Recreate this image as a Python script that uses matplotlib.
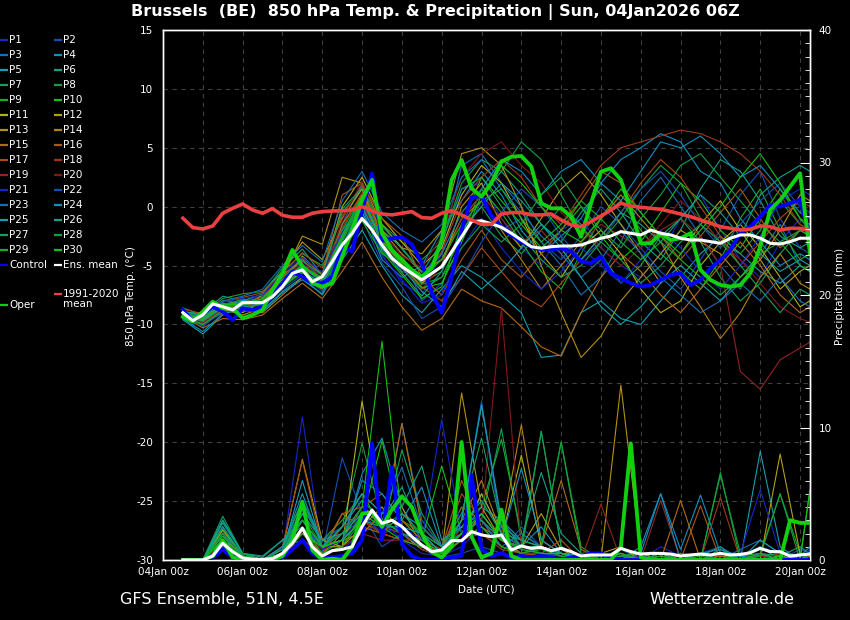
import matplotlib
matplotlib.use("Agg")
import matplotlib.pyplot as plt
from matplotlib.ticker import FixedLocator, MultipleLocator

plt.rcParams["axes.unicode_minus"] = False

# hours after 04Jan 00z
hours_6h = list(range(12, 391, 6))
hours_12h = list(range(12, 385, 12)) + [390]

tick_hours = [0, 48, 96, 144, 192, 240, 288, 336, 384]
tick_labels = ["04Jan 00z", "06Jan 00z", "08Jan 00z", "10Jan 00z", "12Jan 00z",
               "14Jan 00z", "16Jan 00z", "18Jan 00z", "20Jan 00z"]

# 6-hourly main lines (850 hPa temperature, degC)
clim_t = [-0.98, -1.78, -1.89, -1.64, -0.56, -0.14, 0.23, -0.28, -0.56, -0.17, -0.73, -0.9,
          -0.9, -0.56, -0.42, -0.37, -0.34, -0.28, 0.0, -0.34, -0.62, -0.7, -0.56, -0.42,
          -0.93, -0.98, -0.56, -0.34, -0.7, -1.13, -1.5, -1.5, -0.62, -0.5, -0.5, -0.7,
          -0.7, -0.62, -1.13, -1.55, -1.7, -1.27, -0.79, -0.28, 0.29, 0.06, -0.05, -0.14,
          -0.22, -0.42, -0.62, -0.85, -1.13, -1.41, -1.7, -1.84, -1.98, -1.92, -1.64, -1.7,
          -1.98, -1.84, -1.84, -2.04]
mean_t = [-9.0, -9.68, -9.19, -8.26, -8.49, -8.77, -8.15, -8.15, -8.15, -7.64, -6.79, -5.66,
          -5.37, -6.37, -5.94, -4.67, -3.25, -2.26, -0.99, -1.98, -3.25, -4.38, -5.09, -5.66,
          -6.22, -5.66, -5.09, -3.82, -2.55, -1.27, -1.2, -1.45, -1.75, -2.26, -2.83, -3.4,
          -3.53, -3.4, -3.34, -3.34, -3.25, -2.97, -2.68, -2.49, -2.12, -2.26, -2.4, -1.98,
          -2.26, -2.4, -2.68, -2.83, -2.83, -2.97, -3.11, -2.68, -2.4, -2.4, -2.68, -3.11,
          -3.17, -2.97, -2.68, -2.68]
ctrl_t = [-8.77, -9.76, -9.05, -8.49, -8.91, -9.62, -8.63, -8.77, -8.49, -7.5, -6.5, -5.52,
          -5.94, -6.5, -6.5, -5.94, -3.4, -3.82, -0.3, 2.8, -2.9, -2.7, -2.6, -3.2,
          -4.8, -7.3, -9.0, -6.0, -2.0, 0.8, 0.9, -0.8, -1.7, -2.4, -2.97, -3.4,
          -3.62, -3.62, -3.53, -3.82, -4.67, -4.8, -4.24, -5.66, -6.08, -6.5, -6.79, -6.65,
          -6.22, -5.8, -5.66, -6.65, -6.22, -5.23, -4.52, -3.68, -2.26, -1.7, -0.85, 0.14,
          0.0, 0.29, 0.57, -2.55]
oper_t = [-9.34, -9.76, -8.91, -8.06, -8.63, -8.63, -9.47, -9.19, -8.77, -7.07, -5.66, -3.68,
          -5.09, -6.5, -6.79, -6.5, -4.24, -1.98, 0.57, 2.27, -2.26, -3.68, -4.52, -5.37,
          -5.94, -5.23, -2.83, 2.27, 3.96, 1.56, 0.85, 2.0, 3.82, 4.24, 4.3, 3.4,
          0.29, -0.14, -0.14, -0.85, -2.55, 0.29, 2.97, 3.26, 2.27, -0.28, -3.11, -3.11,
          -2.26, -2.83, -2.68, -2.26, -5.37, -6.22, -6.65, -6.79, -6.65, -5.66, -3.4, -0.28,
          0.57, 1.7, 2.83, -3.96]

# 6-hourly main lines (precipitation, mm)
mean_pr = [0, 0, 0, 0.3, 1.26, 0.63, 0.15, 0.05, 0.05, 0.1, 0.5, 1.26, 2.39, 1.0, 0.3, 0.7,
           0.8, 1.0, 2.52, 3.77, 2.77, 3.0, 2.52, 1.76, 1.13, 0.63, 0.75, 1.46, 1.46, 2.14,
           1.89, 1.76, 1.89, 0.75, 1.06, 0.88, 0.95, 0.7, 0.88, 0.63, 0.3, 0.38, 0.38, 0.38,
           0.88, 0.63, 0.45, 0.5, 0.5, 0.45, 0.3, 0.38, 0.45, 0.38, 0.5, 0.38, 0.42, 0.55,
           0.88, 0.63, 0.63, 0.3, 0.38, 0.45]
ctrl_pr = [0, 0, 0, 0.2, 0.8, 0.2, 0, 0, 0, 0, 0.2, 0.8, 1.5, 0.5, 0.1, 0.2,
           0.3, 0.5, 1.5, 8.8, 1.5, 7.0, 1.2, 0.3, 0, 0, 0, 0.2, 0.3, 6.4,
           0.8, 0.3, 0.5, 0.2, 0.3, 0.2, 0.3, 0.2, 0, 0.2, 0.3, 0.5, 0.5, 0.2,
           0, 0, 0, 0, 0, 0, 0, 0, 0, 0, 0, 0, 0, 0,
           0, 0, 0, 0, 0, 0]
oper_pr = [0, 0, 0, 0.3, 1.5, 0.2, 0, 0, 0, 0, 0.3, 1.5, 4.4, 0.75, 0, 0.1,
           0, 1.0, 3.5, 3.6, 2.5, 3.8, 4.8, 4.0, 2.0, 0.6, 0.2, 1.0, 8.9, 1.76,
           0.2, 0.5, 3.8, 0.3, 0, 0, 0, 0, 0, 0, 0, 0, 0, 0,
           1.0, 8.8, 0.2, 0, 0, 0, 0, 0, 0, 0, 0, 0, 0, 0,
           0, 0, 0, 3.0, 2.8, 2.8]

# 12-hourly perturbation members, temperature (degC)
p01_t = [-9.2, -9.6, -8.4, -8.0, -7.6, -6.0, -4.8, -6.8, -2.5, 0.5, -4.0, -6.5, -7.5, -4.0, 1.5, 2.0, -1.0, -3.5, -5.0, -2.0, -1.0, -3.5, -5.0, -6.0, -4.0, -1.0, 1.0, -2.0, -4.5, -6.0, -3.0, -1.0, -2.0]
p02_t = [-8.8, -10.2, -8.8, -8.6, -8.0, -6.4, -5.0, -5.5, -3.8, 1.0, -2.5, -4.0, -8.0, -6.5, -3.0, 0.5, -2.0, -1.0, -3.0, -4.5, -2.5, 0.0, -1.5, -3.5, -5.5, -7.0, -4.5, -2.0, 1.0, 3.0, -1.0, -3.5, -4.0]
p03_t = [-9.4, -10.0, -8.6, -7.9, -8.6, -6.9, -5.2, -6.0, -1.5, 2.0, -3.0, -5.5, -6.0, -3.5, 3.5, 4.5, 2.0, 0.0, -3.0, -5.0, -7.5, -6.0, -3.0, 0.5, 2.5, 0.0, -2.5, -5.0, -7.0, -4.0, -1.5, -5.0, -5.5]
p04_t = [-9.0, -9.4, -8.0, -8.3, -7.8, -5.8, -4.5, -6.2, -2.0, 0.0, -4.5, -6.0, -5.0, -2.0, 0.5, 3.0, 1.0, -2.0, -4.0, -2.5, -1.0, 2.0, 4.0, 5.0, 6.2, 5.5, 3.0, 2.0, -1.0, -3.0, -5.0, -4.0, -4.5]
p05_t = [-9.6, -10.8, -9.2, -8.4, -8.8, -7.2, -6.0, -7.5, -4.5, -2.0, -5.0, -7.5, -9.0, -7.0, -5.0, -6.0, -7.5, -9.0, -12.8, -12.6, -9.0, -8.0, -9.5, -10.0, -8.0, -6.0, -4.0, -2.5, -4.0, -5.5, -6.5, -5.0, -5.5]
p06_t = [-9.0, -9.0, -7.6, -8.0, -7.4, -5.2, -3.6, -5.8, -0.5, 1.5, -2.0, -3.5, -5.5, -4.5, -1.0, 1.0, 3.0, 1.0, -1.5, -3.0, -0.5, 1.5, -0.5, -3.0, -4.5, -2.0, 1.5, 4.0, 3.0, 0.5, -2.5, -3.5, -3.0]
p07_t = [-9.3, -9.8, -8.2, -8.8, -8.2, -6.6, -5.6, -6.6, -3.5, -0.5, -3.5, -4.5, -6.5, -5.5, -2.0, 0.0, -2.5, -4.0, -2.0, 0.0, -1.5, -4.0, -6.5, -5.0, -2.5, -1.0, -3.0, -6.0, -8.0, -6.5, -4.0, -2.0, -2.5]
p08_t = [-8.6, -9.2, -7.8, -7.4, -7.2, -5.5, -4.0, -5.0, -2.0, 1.0, -1.5, -3.0, -4.5, -3.0, 2.0, 4.0, 3.0, 5.5, 4.0, 1.0, -2.0, -3.0, -1.0, 1.5, 3.5, 2.0, -1.0, -3.0, -4.0, -2.0, 0.5, -1.5, -2.0]
p09_t = [-9.1, -9.5, -8.5, -7.8, -8.4, -6.8, -5.5, -6.5, -3.0, 0.5, -3.0, -5.0, -7.0, -6.0, -2.5, 1.5, -0.5, -3.0, -5.5, -7.0, -4.0, -1.0, 0.5, -2.0, -4.0, -5.5, -7.0, -4.5, -1.0, 1.5, -2.0, -4.5, -4.0]
p10_t = [-9.4, -9.9, -8.0, -8.2, -7.9, -6.2, -5.0, -6.3, -2.8, 0.8, -3.8, -5.8, -7.8, -6.8, -1.5, 2.5, 0.5, -1.5, -3.5, -2.0, 0.0, -2.5, -4.5, -3.0, -0.5, 2.0, 0.5, -2.0, -3.5, -1.0, 1.5, -1.0, -1.5]
p11_t = [-8.9, -9.3, -8.4, -9.0, -8.0, -6.5, -4.2, -5.8, 0.0, 2.5, -1.0, -3.0, -5.0, -3.5, 1.0, 3.5, 2.0, -1.0, -4.0, -6.0, -3.5, -2.0, -4.0, -7.0, -9.0, -8.0, -5.0, -3.0, -1.5, -3.5, -6.0, -8.5, -8.0]
p12_t = [-9.2, -9.7, -8.9, -8.5, -7.5, -5.5, -3.0, -4.5, -1.0, 1.5, -2.5, -4.5, -6.5, -5.0, 0.0, 2.0, -1.5, -3.5, -1.0, 1.5, 3.0, 1.0, -1.5, -4.0, -6.5, -4.0, -1.5, 0.5, -2.0, -4.5, -7.0, -5.5, -5.0]
p13_t = [-9.0, -9.4, -8.7, -9.2, -8.6, -6.0, -2.5, -3.2, 2.5, 2.0, -1.5, -3.5, -4.0, -2.0, 4.5, 5.0, 3.5, 0.0, -5.0, -9.0, -12.8, -11.0, -8.0, -6.0, -4.0, -2.0, -3.0, -4.0, -6.0, -4.5, -2.0, 1.0, 0.5]
p14_t = [-9.5, -10.0, -9.0, -8.8, -9.0, -7.5, -6.0, -7.0, -1.5, 1.0, -2.0, -4.0, -5.5, -4.5, -1.0, 0.5, -2.0, -4.5, -7.0, -5.0, -3.0, -1.0, 1.0, -1.0, -3.0, -6.0, -8.5, -11.2, -9.0, -6.0, -4.0, -6.5, -7.0]
p15_t = [-9.3, -10.3, -9.5, -9.6, -9.2, -7.8, -6.5, -7.8, -5.5, -3.0, -6.0, -8.5, -10.5, -9.5, -7.0, -8.0, -8.6, -10.2, -11.9, -12.7, -9.0, -6.0, -4.0, -5.5, -7.5, -9.0, -7.0, -5.0, -3.0, -5.0, -7.5, -9.0, -8.5]
p16_t = [-9.0, -9.6, -8.3, -8.1, -7.7, -5.9, -4.4, -5.7, 1.0, 2.0, -1.0, -2.5, -6.0, -7.5, -4.5, -2.0, -4.5, -6.0, -4.0, -2.0, 0.5, 3.0, 2.0, -0.5, -2.5, -4.5, -2.5, -0.5, 1.5, -1.0, -3.5, -2.0, -2.5]
p17_t = [-8.7, -9.1, -8.1, -7.7, -7.3, -5.7, -3.9, -5.2, -0.8, 1.8, -2.8, -4.8, -6.8, -8.0, -6.0, -3.5, -5.5, -7.5, -8.5, -6.5, -4.5, -2.5, -0.5, 2.0, 4.0, 2.5, 0.0, -2.5, -5.0, -3.0, -1.0, 0.5, 0.0]
p18_t = [-9.4, -9.8, -8.6, -8.4, -8.1, -6.3, -4.9, -6.1, -1.8, 1.2, -3.3, -5.3, -6.3, -3.8, 0.5, 2.5, 4.0, 2.5, 0.0, -1.5, 1.0, 3.5, 5.0, 5.5, 6.0, 6.5, 6.2, 5.5, 4.5, 3.0, 1.0, -1.5, -2.0]
p19_t = [-9.1, -9.5, -8.3, -8.6, -8.3, -6.7, -5.3, -6.3, -2.3, 0.3, -3.0, -5.0, -7.0, -5.0, -1.0, 1.0, -1.0, -3.0, -2.0, -4.0, -3.0, -1.5, -2.5, -3.5, -2.0, -1.0, -2.5, -5.0, -14.0, -15.5, -13.0, -12.0, -11.5]
p20_t = [-9.2, -9.9, -8.7, -8.2, -7.9, -6.1, -4.7, -5.9, -1.2, 2.2, -2.2, -4.2, -5.2, -2.5, 2.5, 4.5, 5.5, 3.5, 2.0, -0.5, -2.0, -3.5, -5.0, -3.5, -1.5, 0.5, -1.0, -3.0, -4.5, -6.5, -8.5, -9.5, -9.8]
p21_t = [-9.0, -9.3, -8.1, -7.8, -7.5, -5.6, -4.3, -5.6, -2.2, 0.2, -4.2, -6.2, -8.2, -7.5, -3.5, -1.0, -3.5, -5.5, -7.0, -5.5, -3.5, -5.0, -6.5, -4.5, -2.0, -3.5, -5.5, -7.0, -5.0, -2.5, 0.5, 1.5, 1.0]
p22_t = [-9.3, -10.1, -8.9, -8.9, -8.5, -7.0, -5.8, -7.2, -4.0, -1.0, -4.8, -6.8, -9.5, -8.5, -6.0, -3.0, -0.5, 1.5, 0.0, -2.5, -4.5, -3.0, -0.5, 1.5, 3.0, 1.0, -1.5, -3.5, -1.5, 0.5, 2.0, 0.0, -0.5]
p23_t = [-8.8, -9.4, -8.0, -7.6, -7.0, -5.0, -3.3, -4.7, 0.5, 3.0, -0.5, -2.0, -3.0, -1.5, 2.5, 4.0, 1.5, -0.5, -2.5, -4.0, -6.0, -4.5, -2.0, -4.0, -6.0, -7.5, -9.0, -8.0, -6.5, -8.0, -6.0, -8.0, -8.5]
p24_t = [-9.5, -10.6, -9.1, -8.7, -8.9, -7.3, -6.2, -7.4, -3.5, -0.5, -3.5, -5.0, -6.0, -4.0, -0.5, 1.5, 4.0, 3.0, 1.0, 3.0, 4.0, 2.0, 0.5, 3.0, 5.5, 5.0, 6.0, 4.5, 2.5, 3.5, 1.5, -0.5, -1.0]
p25_t = [-9.2, -9.6, -8.5, -8.0, -8.1, -6.4, -5.1, -6.4, -2.7, 0.7, -3.2, -5.2, -7.2, -8.5, -5.5, -7.0, -5.5, -3.5, -1.5, -3.5, -6.0, -8.5, -10.0, -8.5, -6.5, -5.0, -6.5, -8.0, -6.0, -4.0, -5.5, -4.5, -5.0]
p26_t = [-8.9, -9.2, -8.2, -8.5, -8.3, -6.6, -5.4, -6.6, -3.3, 0.1, -3.6, -5.6, -7.6, -5.5, -2.0, 0.0, 2.0, 0.5, -1.5, -3.0, -4.5, -2.5, -0.5, -1.5, -3.0, -1.0, 1.0, -0.5, -2.5, 1.0, 2.5, 3.5, 3.0]
p27_t = [-9.3, -9.7, -8.6, -8.1, -7.9, -6.0, -4.6, -5.8, -0.2, 1.6, -1.6, -3.6, -5.6, -3.0, 1.5, 2.5, 0.0, -2.5, -4.5, -6.0, -5.0, -3.0, -4.5, -6.5, -5.0, -3.0, -1.5, -3.0, -5.0, -7.0, -9.0, -7.0, -7.5]
p28_t = [-9.0, -9.4, -8.5, -8.7, -8.2, -6.4, -5.2, -6.0, -2.6, 0.6, -2.6, -4.6, -6.6, -6.0, -3.5, -1.5, -3.0, -1.5, 1.0, 2.5, 0.0, -2.0, -3.5, -1.0, 1.0, 3.5, 4.5, 2.5, 0.5, -1.5, -3.0, -2.0, -2.5]
p29_t = [-9.4, -10.0, -8.8, -8.4, -8.0, -6.8, -5.6, -6.8, -3.8, -1.2, -4.0, -5.0, -6.0, -4.5, -1.5, 0.5, 1.5, -1.0, -3.0, -1.5, 0.5, -1.0, -3.0, -4.5, -3.0, -4.5, -6.0, -7.5, -6.0, -4.0, -3.0, -5.0, -5.5]
p30_t = [-9.1, -9.5, -8.3, -8.3, -7.8, -6.2, -5.0, -6.2, -2.4, 0.9, -2.9, -4.9, -6.9, -6.5, -3.0, 1.0, 3.5, 2.0, 0.0, -2.0, -3.0, -1.0, 1.5, -0.5, -2.5, -4.0, -2.0, 0.0, 2.5, 4.5, 2.0, -1.0, -2.0]

# 12-hourly perturbation members, precipitation (mm)
p01_pr = [0, 0, 1.2, 0, 0, 0.5, 10.8, 0.5, 0.8, 2.0, 3.0, 1.5, 0.5, 0.3, 1.0, 2.5, 1.5, 0.5, 0.3, 0, 0, 0.5, 0, 0, 1.0, 0.3, 0, 0, 0, 0.5, 0, 0, 0]
p02_pr = [0, 0, 0.8, 0, 0, 0.3, 2.0, 0.5, 7.7, 3.5, 1.0, 2.0, 0.8, 0.2, 0.5, 1.0, 0.5, 2.5, 1.0, 0.3, 0, 0, 0.8, 0, 0, 0, 0.5, 1.0, 0, 0.3, 0, 0.8, 0.5]
p03_pr = [0, 0, 1.5, 0.2, 0, 0.8, 3.0, 1.0, 2.0, 4.0, 2.5, 10.3, 3.0, 1.0, 2.0, 3.5, 1.5, 1.0, 0.5, 0.5, 0, 0.3, 0, 0.5, 0, 0.5, 0, 0, 0.8, 1.5, 0.5, 0, 0]
p04_pr = [0, 0, 2.0, 0, 0, 1.0, 4.5, 1.5, 1.0, 6.5, 9.2, 4.0, 1.5, 0.5, 1.5, 5.0, 2.0, 1.0, 2.5, 0.5, 0.3, 0, 0, 1.0, 5.0, 0.8, 4.9, 0.5, 0.3, 1.0, 0, 0.5, 0.3]
p05_pr = [0, 0, 2.5, 0.3, 0, 0.5, 6.0, 1.0, 1.5, 3.0, 2.0, 3.5, 2.5, 1.0, 2.0, 4.0, 3.0, 1.5, 1.0, 0.5, 0, 0, 0.5, 0, 0, 0, 0, 0, 0, 8.2, 1.0, 0, 0.5]
p06_pr = [0, 0, 3.0, 0.5, 0.2, 1.5, 2.5, 0.8, 2.5, 4.5, 3.0, 5.5, 2.0, 0.5, 3.0, 11.7, 2.5, 1.5, 6.6, 2.0, 0.5, 0.5, 0, 0.3, 0, 0.5, 0.3, 1.0, 0, 0.5, 0.3, 1.0, 0.5]
p07_pr = [0, 0, 3.3, 0.5, 0, 1.0, 1.5, 0.5, 1.0, 3.0, 2.0, 8.3, 3.5, 1.0, 2.0, 3.0, 9.9, 1.5, 1.0, 0.5, 0, 0, 0.5, 0, 0.3, 0, 0, 0.8, 0, 0.3, 0, 0, 0.5]
p08_pr = [0, 0, 2.2, 0.3, 0, 0.8, 3.5, 1.0, 2.5, 8.8, 3.0, 2.0, 1.5, 0.5, 1.5, 2.5, 1.0, 0.5, 9.7, 1.0, 0.3, 0, 0, 0.5, 0, 0.5, 0, 6.4, 0.5, 0.3, 0.5, 0, 0.3]
p09_pr = [0, 0, 1.8, 0.2, 0, 0.5, 4.0, 1.5, 3.0, 5.0, 2.5, 3.0, 2.0, 1.0, 3.0, 4.0, 9.1, 2.0, 1.0, 8.9, 1.0, 0, 0.3, 0.5, 0, 0, 0.3, 0, 0, 0.5, 5.0, 0.5, 0.3]
p10_pr = [0, 0, 1.0, 0, 0, 0.3, 2.0, 0.5, 1.5, 4.0, 16.5, 3.0, 1.5, 7.1, 2.0, 3.0, 1.5, 1.0, 0.5, 0.3, 0, 0, 0.5, 0, 0, 0, 0, 0, 0.3, 0.5, 0, 0, 5.3]
p11_pr = [0, 0, 1.5, 0.5, 0, 0.5, 3.0, 1.0, 1.0, 12.0, 3.0, 2.0, 1.0, 0.3, 1.5, 3.5, 1.5, 7.9, 1.0, 0.5, 0.3, 0, 0, 0, 0, 0.5, 0, 0, 0, 0, 0.3, 0, 0]
p12_pr = [0, 0, 2.3, 0.3, 0, 0.8, 7.6, 1.5, 1.0, 2.5, 4.0, 2.0, 0.8, 0.3, 2.0, 5.0, 2.0, 1.0, 3.5, 0.8, 0, 0.5, 1.0, 0, 0.5, 0, 0, 0.3, 0, 0, 8.0, 0.5, 0]
p13_pr = [0, 0, 1.0, 0, 0, 0.5, 1.5, 0.5, 2.0, 3.0, 2.0, 1.5, 1.0, 0.5, 12.6, 4.0, 1.5, 0.5, 0.3, 0, 0, 0, 13.2, 0.5, 0, 0.3, 0, 0, 0, 0.3, 0, 0, 0]
p14_pr = [0, 0, 1.2, 0.2, 0, 0.3, 2.5, 1.0, 1.5, 2.0, 3.5, 4.0, 1.0, 0.5, 3.0, 6.0, 2.0, 10.2, 1.5, 0.5, 0, 0, 0.5, 0, 0, 0, 0.5, 0, 0, 0, 0, 0.5, 0]
p15_pr = [0, 0, 0.8, 0, 0, 0.5, 3.0, 0.8, 3.5, 2.5, 2.0, 10.3, 2.5, 1.0, 4.0, 3.0, 1.0, 0.5, 1.0, 6.0, 0.8, 0, 0, 0.3, 0, 4.5, 0, 0.3, 0, 0, 0, 0, 0]
p16_pr = [0, 0, 1.5, 0.3, 0, 0.5, 2.0, 0.5, 3.5, 4.0, 5.0, 3.0, 1.5, 0.8, 6.0, 2.5, 1.5, 1.0, 0.5, 1.5, 0, 0, 0.5, 0, 0.3, 0, 4.1, 0, 0.5, 0, 0, 0, 0.3]
p17_pr = [0, 0, 2.0, 0.2, 0, 1.0, 7.5, 1.0, 1.5, 3.0, 2.5, 2.0, 1.0, 0.5, 5.0, 3.0, 1.0, 0.5, 0.5, 0.3, 0, 0.5, 0, 0, 0, 0, 0, 0, 0, 0.5, 0, 0, 0]
p18_pr = [0, 0, 1.0, 0, 0, 0.5, 1.5, 0.5, 2.5, 3.5, 2.0, 1.5, 1.5, 0.3, 2.5, 2.0, 0.8, 0.5, 0.3, 0, 0, 0, 0, 0.3, 0, 0, 0, 4.7, 0, 0.5, 0, 0, 0]
p19_pr = [0, 0, 0.8, 0, 0, 0.3, 2.5, 0.5, 1.0, 2.0, 1.5, 1.5, 1.0, 0.5, 1.5, 2.0, 1.0, 0.5, 0.5, 0.3, 0, 4.2, 0, 0, 4.5, 0, 0, 0.5, 0, 0, 0.5, 0, 0]
p20_pr = [0, 0, 1.2, 0.2, 0, 0.5, 2.0, 0.8, 1.5, 3.0, 2.0, 2.5, 0.8, 0.3, 2.0, 3.0, 19.0, 1.0, 0.5, 0.3, 0, 0, 0.5, 0, 0, 0, 0, 0, 0, 0.3, 0, 0, 0]
p21_pr = [0, 0, 1.0, 0, 0, 0.5, 3.0, 0.8, 1.5, 3.5, 2.0, 2.5, 1.5, 10.6, 2.0, 3.0, 1.5, 0.8, 0.5, 0.3, 0, 0, 0, 0.3, 0, 0, 0, 0, 0.5, 5.3, 0.5, 0, 0.8]
p22_pr = [0, 0, 1.5, 0.3, 0, 0.5, 2.5, 1.0, 2.0, 4.0, 3.0, 2.0, 1.0, 0.5, 3.0, 12.0, 2.0, 1.0, 0.5, 0.3, 0, 0.3, 0, 0, 0, 0.5, 0, 0, 0, 1.0, 0.5, 0, 0.5]
p23_pr = [0, 0, 2.0, 0.2, 0, 0.8, 4.0, 1.5, 2.5, 5.0, 3.5, 7.0, 2.5, 1.0, 2.0, 3.0, 1.0, 2.0, 1.0, 0.5, 0, 0, 0.5, 0, 0, 0, 0.5, 0, 0.3, 0, 0, 0.5, 0]
p24_pr = [0, 0, 2.5, 0.3, 0, 1.0, 5.0, 1.0, 1.5, 6.0, 5.0, 3.0, 5.5, 1.0, 2.5, 3.5, 1.5, 6.9, 1.5, 0.5, 0.3, 0, 0, 0.5, 5.0, 0, 0.5, 0.8, 0.3, 0, 0, 0.3, 1.0]
p25_pr = [0, 0, 2.8, 0.5, 0, 0.5, 3.5, 1.5, 2.0, 3.5, 2.5, 2.5, 2.0, 0.5, 3.0, 11.7, 3.0, 1.0, 1.0, 0.5, 0, 0, 0, 0, 0, 0, 0, 0, 0, 1.5, 0.5, 0, 0]
p26_pr = [0, 0, 3.0, 0.5, 0.3, 1.5, 3.0, 1.0, 2.5, 5.0, 3.5, 4.0, 7.1, 1.5, 2.5, 4.5, 2.0, 1.5, 1.0, 0.5, 0, 0, 0.3, 0, 0.5, 0, 0, 0, 0, 0.5, 0, 0, 0]
p27_pr = [0, 0, 2.5, 0.3, 0, 0.8, 4.5, 1.0, 1.5, 3.0, 2.5, 3.5, 2.0, 1.0, 3.5, 9.2, 2.5, 1.0, 9.7, 1.0, 0.3, 0, 0, 0, 0.5, 0, 0, 0.5, 0, 0, 0, 0.5, 0]
p28_pr = [0, 0, 2.0, 0.5, 0, 0.5, 3.0, 1.0, 2.0, 4.0, 3.0, 2.0, 1.5, 0.5, 2.0, 3.0, 1.5, 1.0, 1.0, 8.9, 0.5, 0, 0.3, 0, 0, 0.5, 0, 6.6, 0, 0.3, 5.0, 0, 0]
p29_pr = [0, 0, 1.8, 0.3, 0, 0.5, 2.5, 0.5, 1.0, 3.5, 2.5, 1.5, 1.0, 0.5, 1.5, 2.5, 1.0, 0.5, 0.8, 0.3, 0, 0.5, 0, 0, 0.3, 0, 0, 0, 0.5, 0, 0.3, 0, 0.5]
p30_pr = [0, 0, 1.5, 0.2, 0, 0.5, 2.0, 1.0, 1.5, 3.0, 9.0, 2.5, 1.0, 0.5, 2.0, 3.5, 1.5, 0.8, 0.5, 0.5, 0, 0, 0.5, 0, 0, 0, 0, 0, 0, 0, 0, 0, 5.3]

member_temp = [p01_t, p02_t, p03_t, p04_t, p05_t, p06_t, p07_t, p08_t, p09_t, p10_t,
               p11_t, p12_t, p13_t, p14_t, p15_t, p16_t, p17_t, p18_t, p19_t, p20_t,
               p21_t, p22_t, p23_t, p24_t, p25_t, p26_t, p27_t, p28_t, p29_t, p30_t]
member_precip = [p01_pr, p02_pr, p03_pr, p04_pr, p05_pr, p06_pr, p07_pr, p08_pr, p09_pr, p10_pr,
                 p11_pr, p12_pr, p13_pr, p14_pr, p15_pr, p16_pr, p17_pr, p18_pr, p19_pr, p20_pr,
                 p21_pr, p22_pr, p23_pr, p24_pr, p25_pr, p26_pr, p27_pr, p28_pr, p29_pr, p30_pr]

base_colors = ["#1428c8", "#1450b4", "#1470b4", "#1490c0", "#14a0b0",
               "#14a086", "#14a05a", "#14a040", "#14b024", "#14c014",
               "#b4b014", "#b4a014", "#b49014", "#b48014", "#b46a14",
               "#a85a14", "#a84a14", "#a03a18", "#902424", "#801818"]
member_colors = base_colors + base_colors[:10]

CTRL_COLOR = "#0000ff"
OPER_COLOR = "#10d010"
CLIM_COLOR = "#ec4040"
MEAN_COLOR = "#ffffff"
GRID_COLOR = "#404040"

W, H = 850, 620
fig = plt.figure(figsize=(W / 100, H / 100), dpi=100, facecolor="black")
ax = fig.add_axes([163 / W, 60 / H, 647 / W, 530 / H])
ax.set_facecolor("black")
ax.set_xlim(0, 390)
ax.set_ylim(-30, 15)

for vals, col in zip(member_temp, member_colors):
    ax.plot(hours_12h, vals, color=col, lw=0.8, zorder=2)

ax.plot(hours_6h, ctrl_t, color=CTRL_COLOR, lw=2.8, zorder=4)
ax.plot(hours_6h, oper_t, color=OPER_COLOR, lw=2.8, zorder=5)
ax.plot(hours_6h, mean_t, color=MEAN_COLOR, lw=2.2, zorder=6)
ax.plot(hours_6h, clim_t, color=CLIM_COLOR, lw=2.6, zorder=7)

ax.xaxis.set_major_locator(FixedLocator(tick_hours))
ax.xaxis.set_minor_locator(MultipleLocator(24))
ax.set_xticklabels(tick_labels)
ax.yaxis.set_major_locator(MultipleLocator(5))
ax.grid(True, which="both", color=GRID_COLOR, lw=0.8, linestyle=(0, (4, 4)))
ax.tick_params(axis="x", which="both", length=0, pad=5, colors="white", labelsize=7.5)
ax.tick_params(axis="y", length=0, pad=7, colors="white", labelsize=7.5)
for sp in ax.spines.values():
    sp.set_color("white")
    sp.set_linewidth(1)

ax2 = ax.twinx()
ax2.set_ylim(0, 40)
ax2.set_xlim(0, 390)
for vals, col in zip(member_precip, member_colors):
    ax2.plot(hours_12h, vals, color=col, lw=0.8, zorder=2)
ax2.plot(hours_6h, ctrl_pr, color=CTRL_COLOR, lw=2.8, zorder=4)
ax2.plot(hours_6h, oper_pr, color=OPER_COLOR, lw=2.8, zorder=5)
ax2.plot(hours_6h, mean_pr, color=MEAN_COLOR, lw=2.2, zorder=6)
ax2.yaxis.set_major_locator(MultipleLocator(10))
ax2.yaxis.set_minor_locator(MultipleLocator(1))
ax2.tick_params(axis="y", which="major", direction="in", length=7, pad=6,
                colors="white", labelsize=7.5)
ax2.tick_params(axis="y", which="minor", direction="in", length=3.5, colors="white")
for sp in ax2.spines.values():
    sp.set_color("white")
    sp.set_linewidth(1)

# titles and labels
fig.text(435 / W, 1 - 12 / H, "Brussels  (BE)  850 hPa Temp. & Precipitation | Sun, 04Jan2026 06Z",
         color="white", fontsize=11.5, fontweight="bold", ha="center", va="center")
fig.text(131 / W, 1 - 296 / H, "850 hPa Temp. (°C)", color="white", fontsize=7.5,
         rotation=90, ha="center", va="center")
fig.text(840 / W, 1 - 296 / H, "Precipitation (mm)", color="white", fontsize=7.5,
         rotation=90, ha="center", va="center")
fig.text(486 / W, 1 - 589 / H, "Date (UTC)", color="white", fontsize=7.5,
         ha="center", va="center")
fig.text(120 / W, 1 - 599 / H, "GFS Ensemble, 51N, 4.5E", color="white", fontsize=11.5,
         ha="left", va="center")
fig.text(794 / W, 1 - 599 / H, "Wetterzentrale.de", color="white", fontsize=11.5,
         ha="right", va="center")

# legend drawn in pixel coordinates on an overlay
lax = fig.add_axes([0, 0, 1, 1], facecolor="none")
lax.set_xlim(0, W)
lax.set_ylim(H, 0)
lax.axis("off")


def legend_entry(x, y, color, label):
    lax.plot([x, x + 8], [y, y], color=color, lw=1.6, solid_capstyle="butt")
    lax.text(x + 9, y, label, color="white", fontsize=7.5, ha="left", va="center")


for i in range(30):
    col = i % 2
    row = i // 2
    legend_entry(0 if col == 0 else 54, 40 + 15 * row, member_colors[i], f"P{i + 1}")
legend_entry(0, 265, CTRL_COLOR, "Control")
legend_entry(54, 265, MEAN_COLOR, "Ens. mean")
lax.plot([54, 62], [294, 294], color=CLIM_COLOR, lw=1.6, solid_capstyle="butt")
lax.text(63, 299, "1991-2020\nmean", color="white", fontsize=7.5, ha="left", va="center",
         linespacing=0.9)
legend_entry(0, 305, OPER_COLOR, "Oper")

fig.savefig("out.png", dpi=100, facecolor="black")
